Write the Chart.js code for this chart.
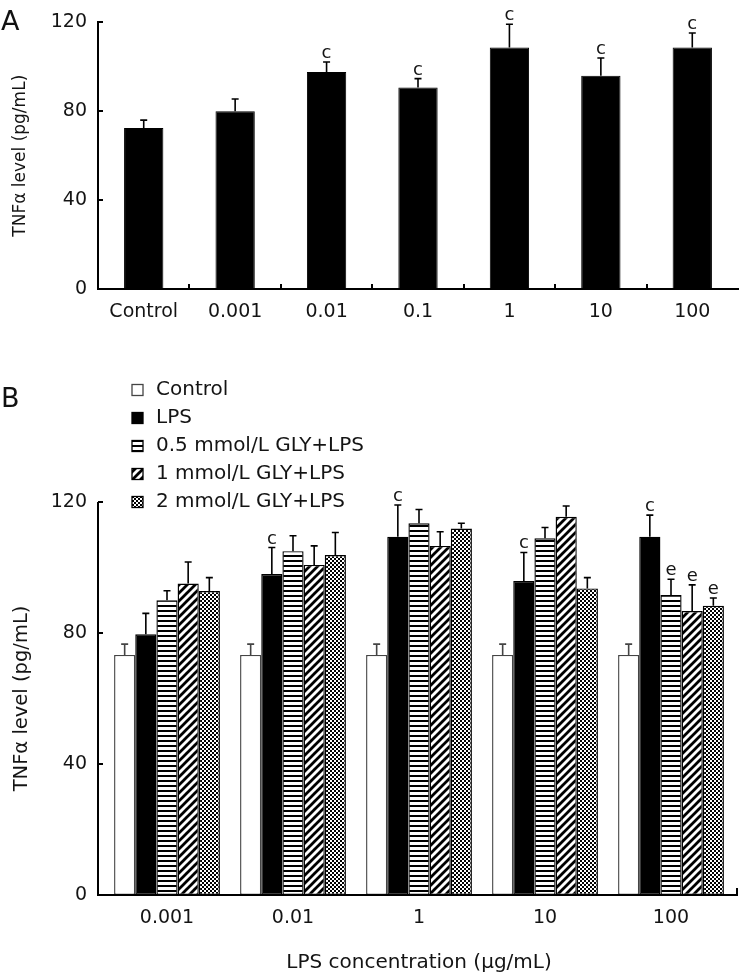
<!DOCTYPE html>
<html><head><meta charset="utf-8">
<script src="https://cdn.jsdelivr.net/npm/chart.js@4.4.0/dist/chart.umd.min.js"></script>
<style>
html,body{margin:0;padding:0;background:#fff;}
#wrap{position:relative;width:740px;height:975px;overflow:hidden;font-family:"DejaVu Sans",sans-serif;}
canvas{position:absolute;left:0;}
#cA{top:0;width:740px;height:330px;}
#cB{top:340px;width:740px;height:635px;}
.pl{position:absolute;left:1px;font-size:27px;line-height:27px;color:#111;}
</style></head><body>
<div id="wrap">
<canvas id="cA" width="740" height="330"></canvas>
<canvas id="cB" width="740" height="635"></canvas>
<div class="pl" style="top:7px">A</div>
<div class="pl" style="top:384px">B</div>
</div>
<script>
// ---------- Panel A data ----------
const categoriesA = ['Control', '0.001', '0.01', '0.1', '1', '10', '100'];
const valuesA = [72.5, 80, 97.7, 90.7, 108.7, 96, 108.7];
const errorsA = [3.5, 5.5, 4.5, 4, 10.5, 8, 6.5];
const sigA = ['', '', 'c', 'c', 'c', 'c', 'c'];

// ---------- Panel B data ----------
const groupsB = ['0.001', '0.01', '1', '10', '100'];
const seriesNamesB = ['Control', 'LPS', '0.5 mmol/L GLY+LPS', '1 mmol/L GLY+LPS', '2 mmol/L GLY+LPS'];
const controlB = [73.3, 73.3, 73.3, 73.3, 73.3];
const controlErrB = [3.3, 3.3, 3.3, 3.3, 3.3];
const lpsB = [79.6, 98, 109.4, 95.9, 109.4];
const lpsErrB = [6.4, 8.1, 9.7, 8.7, 6.6];
const gly05B = [90, 105, 113.5, 108.9, 91.6];
const gly05ErrB = [2.9, 4.7, 4.2, 3.3, 4.8];
const gly1B = [95.1, 100.8, 106.6, 115.5, 86.7];
const gly1ErrB = [6.6, 5.8, 4.3, 3.3, 8];
const gly2B = [92.8, 103.8, 111.9, 93.6, 88.3];
const gly2ErrB = [4.1, 6.9, 1.6, 3.3, 2.4];
const sigControlB = ['', '', '', '', ''];
const sigLpsB = ['', 'c', 'c', 'c', 'c'];
const sigGly05B = ['', '', '', '', 'e'];
const sigGly1B = ['', '', '', '', 'e'];
const sigGly2B = ['', '', '', '', 'e'];

// ---------- axis ----------
const yMin = 0, yMax = 120, yStep = 40;
const yTitle = 'TNFα level (pg/mL)';
const xTitleB = 'LPS concentration (μg/mL)';

const FONT = '"DejaVu Sans", sans-serif';
const TXT = '#141414';

function makePattern(kind) {
  const c = document.createElement('canvas');
  const x = c.getContext('2d');
  if (kind === 'h') {
    c.width = 5; c.height = 5;
    x.fillStyle = '#fff'; x.fillRect(0, 0, 5, 5);
    x.fillStyle = '#000'; x.fillRect(0, 0, 5, 2);
  } else if (kind === 'd') {
    const s = 8; c.width = s; c.height = s;
    x.fillStyle = '#fff'; x.fillRect(0, 0, s, s);
    x.strokeStyle = '#000'; x.lineWidth = 2.8;
    x.beginPath();
    x.moveTo(-2, s + 2); x.lineTo(s + 2, -2);
    x.moveTo(-2, 2); x.lineTo(2, -2);
    x.moveTo(s - 2, s + 2); x.lineTo(s + 2, s - 2);
    x.stroke();
  } else {
    c.width = 4; c.height = 4;
    x.fillStyle = '#fff'; x.fillRect(0, 0, 4, 4);
    x.fillStyle = '#000'; x.fillRect(0, 0, 2, 2); x.fillRect(2, 2, 2, 2);
  }
  return document.createElement('canvas').getContext('2d').createPattern(c, 'repeat');
}

const errorBars = {
  id: 'errorBars',
  afterDatasetsDraw(chart) {
    const ctx = chart.ctx, ys = chart.scales.y;
    chart.data.datasets.forEach((ds, i) => {
      const meta = chart.getDatasetMeta(i);
      meta.data.forEach((bar, j) => {
        const yTop = ys.getPixelForValue(ds.data[j] + ds.errs[j]);
        ctx.save();
        ctx.strokeStyle = ds.errColor || '#000';
        ctx.lineWidth = 1.6;
        ctx.beginPath();
        ctx.moveTo(bar.x, bar.y); ctx.lineTo(bar.x, yTop);
        ctx.moveTo(bar.x - 3.5, yTop); ctx.lineTo(bar.x + 3.5, yTop);
        ctx.stroke();
        if (ds.sig && ds.sig[j]) {
          ctx.fillStyle = TXT;
          ctx.font = '18px ' + FONT;
          ctx.textAlign = 'center';
          ctx.textBaseline = 'alphabetic';
          ctx.fillText(ds.sig[j], bar.x, yTop - 4);
        }
        ctx.restore();
      });
    });
  }
};

// axis lines and inward tick marks, placed from the scales / chart area
const axisMarks = {
  id: 'axisMarks',
  afterDraw(chart, args, opts) {
    const ctx = chart.ctx, ys = chart.scales.y, xs = chart.scales.x, a = chart.chartArea;
    const ax = Math.round(a.left - (opts.shift || 0));
    const by = Math.round(a.bottom);
    ctx.save();
    ctx.strokeStyle = '#000'; ctx.lineWidth = 2; ctx.lineCap = 'butt';
    if (opts.drawAxes) {
      ctx.beginPath(); ctx.moveTo(ax, Math.round(a.top)); ctx.lineTo(ax, by + 1); ctx.stroke();
      ctx.beginPath(); ctx.moveTo(ax - 1, by); ctx.lineTo(Math.round(a.right + (opts.extendRight || 0)), by); ctx.stroke();
    }
    ys.ticks.forEach(t => {
      const p = Math.round(ys.getPixelForValue(t.value));
      ctx.beginPath(); ctx.moveTo(ax, p); ctx.lineTo(ax + 5, p); ctx.stroke();
    });
    if (opts.boundaries) {
      for (let i = 1; i < xs.ticks.length; i++) {
        const p = Math.round((xs.getPixelForValue(i - 1) + xs.getPixelForValue(i)) / 2);
        ctx.beginPath(); ctx.moveTo(p, by); ctx.lineTo(p, by - 5); ctx.stroke();
      }
    }
    if (opts.endTick) {
      const ex = Math.round(a.right + (opts.extendRight || 0)) - 1;
      ctx.beginPath(); ctx.moveTo(ex, by); ctx.lineTo(ex, by - 7); ctx.stroke();
    }
    ctx.restore();
  }
};

const boxLegend = {
  id: 'boxLegend',
  afterDraw(chart, args, opts) {
    if (!opts.show) return;
    const ctx = chart.ctx;
    chart.data.datasets.forEach((ds, i) => {
      const yc = opts.y0 + i * opts.dy;
      ctx.save();
      ctx.fillStyle = ds.backgroundColor;
      ctx.fillRect(opts.x, yc - 5.5, 11, 11);
      ctx.strokeStyle = ds.borderColor; ctx.lineWidth = 1.3;
      ctx.strokeRect(opts.x, yc - 5.5, 11, 11);
      ctx.fillStyle = TXT;
      ctx.font = opts.font;
      ctx.textAlign = 'left'; ctx.textBaseline = 'middle';
      ctx.fillText(ds.label, opts.x + 24, yc);
      ctx.restore();
    });
  }
};

function scales(yWidth, xHeight, xTitle, yPad, showBorders, yTitleSize) {
  return {
    x: {
      type: 'category',
      grid: { display: false, drawTicks: false },
      border: { display: showBorders, color: '#000', width: 2 },
      ticks: { color: TXT, font: { family: FONT, size: 19 }, padding: 12, maxRotation: 0, autoSkip: false },
      title: xTitle ? { display: true, text: xTitle, color: TXT, font: { family: FONT, size: 20 }, padding: { top: 4, bottom: 0 } } : { display: false },
      afterFit(s) { s.height = xHeight; }
    },
    y: {
      min: yMin, max: yMax,
      grid: { display: false, drawTicks: false },
      border: { display: showBorders, color: '#000', width: 2 },
      ticks: { stepSize: yStep, color: TXT, font: { family: FONT, size: 19 }, padding: yPad },
      title: { display: true, text: yTitle, color: TXT, font: { family: FONT, size: yTitleSize }, padding: { top: 10, bottom: 0 } },
      afterFit(s) { s.width = yWidth; }
    }
  };
}

Chart.register(errorBars, axisMarks, boxLegend);

new Chart(document.getElementById('cA'), {
  type: 'bar',
  data: {
    labels: categoriesA,
    datasets: [{
      label: 'TNFα', data: valuesA, errs: errorsA, sig: sigA,
      backgroundColor: '#000', borderColor: '#000', borderWidth: 1, borderSkipped: false,
      barPercentage: 0.43, categoryPercentage: 1
    }]
  },
  options: {
    responsive: false, animation: false, devicePixelRatio: 1,
    layout: { padding: { top: 16, right: 2, left: 0, bottom: 0 } },
    plugins: { legend: { display: false }, tooltip: { enabled: false },
      axisMarks: { boundaries: true, endTick: false, drawAxes: false, shift: 0 }, boxLegend: { show: false } },
    scales: scales(98, 41, null, 11, true, 17)
  }
});

const patH = makePattern('h'), patD = makePattern('d'), patC = makePattern('c');
new Chart(document.getElementById('cB'), {
  type: 'bar',
  data: {
    labels: groupsB,
    datasets: [
      { label: seriesNamesB[0], data: controlB, errs: controlErrB, sig: sigControlB, backgroundColor: '#fff', borderColor: '#444', errColor: '#444' },
      { label: seriesNamesB[1], data: lpsB, errs: lpsErrB, sig: sigLpsB, backgroundColor: '#000', borderColor: '#000' },
      { label: seriesNamesB[2], data: gly05B, errs: gly05ErrB, sig: sigGly05B, backgroundColor: patH, borderColor: '#000' },
      { label: seriesNamesB[3], data: gly1B, errs: gly1ErrB, sig: sigGly1B, backgroundColor: patD, borderColor: '#000' },
      { label: seriesNamesB[4], data: gly2B, errs: gly2ErrB, sig: sigGly2B, backgroundColor: patC, borderColor: '#000' }
    ].map(d => Object.assign(d, { borderWidth: 1.4, borderSkipped: false, barPercentage: 1, categoryPercentage: 0.84 }))
  },
  options: {
    responsive: false, animation: false, devicePixelRatio: 1,
    layout: { padding: { top: 162, right: 6, left: 0, bottom: 0 } },
    plugins: { legend: { display: false }, tooltip: { enabled: false },
      axisMarks: { boundaries: false, endTick: true, drawAxes: true, shift: 6, extendRight: 4 },
      boxLegend: { show: true, x: 132, y0: 50, dy: 28, font: '20px ' + FONT } },
    scales: scales(104, 80, xTitleB, 17, false, 19.5)
  }
});
</script>
</body></html>
